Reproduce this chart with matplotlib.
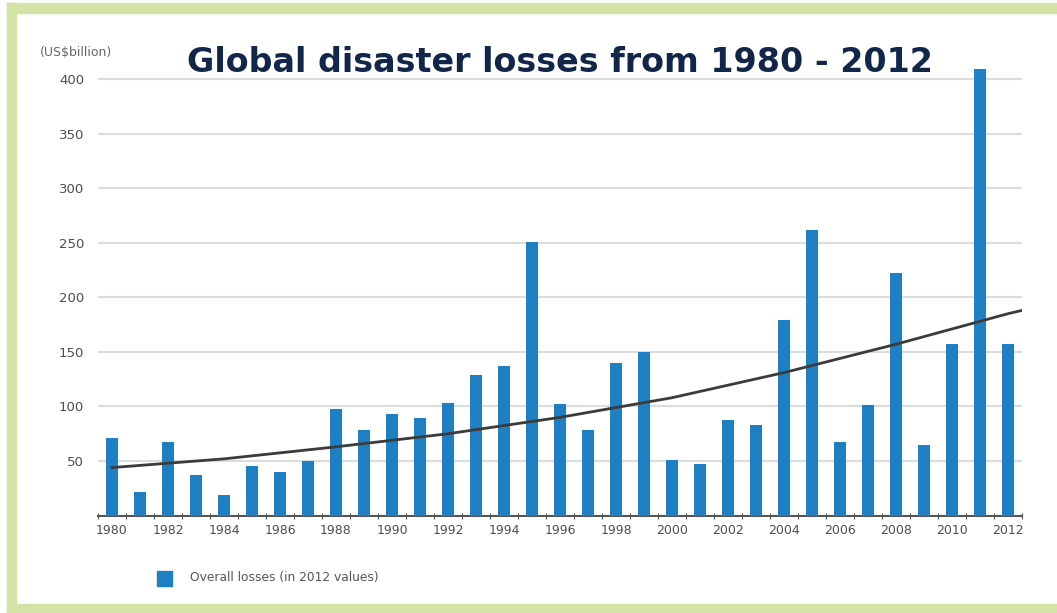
import matplotlib.pyplot as plt
from matplotlib.patches import Rectangle

# Data (US$ billion, 2012 values)
years = list(range(1980, 2013))
losses = [71, 22, 67, 37, 19, 45, 40, 50, 98, 78, 93, 89, 103, 129, 137, 251,
          102, 78, 140, 150, 51, 47, 88, 83, 179, 262, 67, 101, 222, 65, 157, 409, 157]

# Trend line
trend_years = [1980, 1984, 1988, 1992, 1996, 2000, 2004, 2008, 2012, 2012.5]
trend_vals = [44, 52, 63, 75, 90, 108, 131, 157, 185, 188]

yticks = [50, 100, 150, 200, 250, 300, 350, 400]

bar_color = "#1f7fc3"
green = "#d3e3a6"

fig = plt.figure(figsize=(10.57, 6.13), dpi=100)

# green frame (top, left, bottom; right side is cut off in the original)
W, H = 1057, 613
for (x0, y0, w, h) in [(7, 3, 1050, 10), (7, 3, 9, 610), (7, 604, 1050, 9)]:
    fig.patches.append(Rectangle((x0 / W, 1 - (y0 + h) / H), w / W, h / H,
                                 transform=fig.transFigure, color=green, zorder=0))

ax = fig.add_axes([98 / W, 1 - 515.6 / H, 924 / W, (515.6 - 57.2) / H])

x = [y - 1980 for y in years]
ax.bar(x, losses, width=0.43, color=bar_color, zorder=3)
ax.plot([t - 1980 for t in trend_years], trend_vals, color="#3b3b3b", lw=2, zorder=4)

ax.set_xlim(-0.5, 32.5)
ax.set_ylim(0, 420)

ax.set_yticks(yticks)
ax.set_yticklabels([str(v) for v in yticks], fontsize=9.5, color="#4d4d4d")
ax.tick_params(axis="y", length=0, pad=10)
ax.yaxis.grid(True, color="#dcdcdc", lw=1.5, zorder=0)

# ticks at the boundaries, labels centred on every other bar
ax.set_xticks([i - 0.5 for i in range(34)])
ax.set_xticklabels([])
ax.set_xticks(x[::2], minor=True)
ax.set_xticklabels([str(y) for y in years[::2]], minor=True, fontsize=9, color="#4d4d4d")
ax.tick_params(axis="x", which="major", length=5, color="#555555", direction="inout")
ax.tick_params(axis="x", which="minor", length=0, pad=6)

for s in ["top", "right", "left"]:
    ax.spines[s].set_visible(False)
ax.spines["bottom"].set_color("#555555")
ax.spines["bottom"].set_linewidth(1.5)

fig.text(40 / W, 1 - 52 / H, "(US$billion)", fontsize=9, color="#666666", va="center")
fig.text(560 / W, 1 - 62 / H, "Global disaster losses from 1980 - 2012",
         fontsize=24, fontweight="bold", color="#12264a", ha="center", va="center")

# legend
fig.patches.append(Rectangle((157 / W, 1 - 586 / H), 15 / W, 15 / H,
                             transform=fig.transFigure, color=bar_color))
fig.text(190 / W, 1 - 578 / H, "Overall losses (in 2012 values)", fontsize=8.8,
         color="#555555", va="center")

fig.savefig("out.png", dpi=100)
